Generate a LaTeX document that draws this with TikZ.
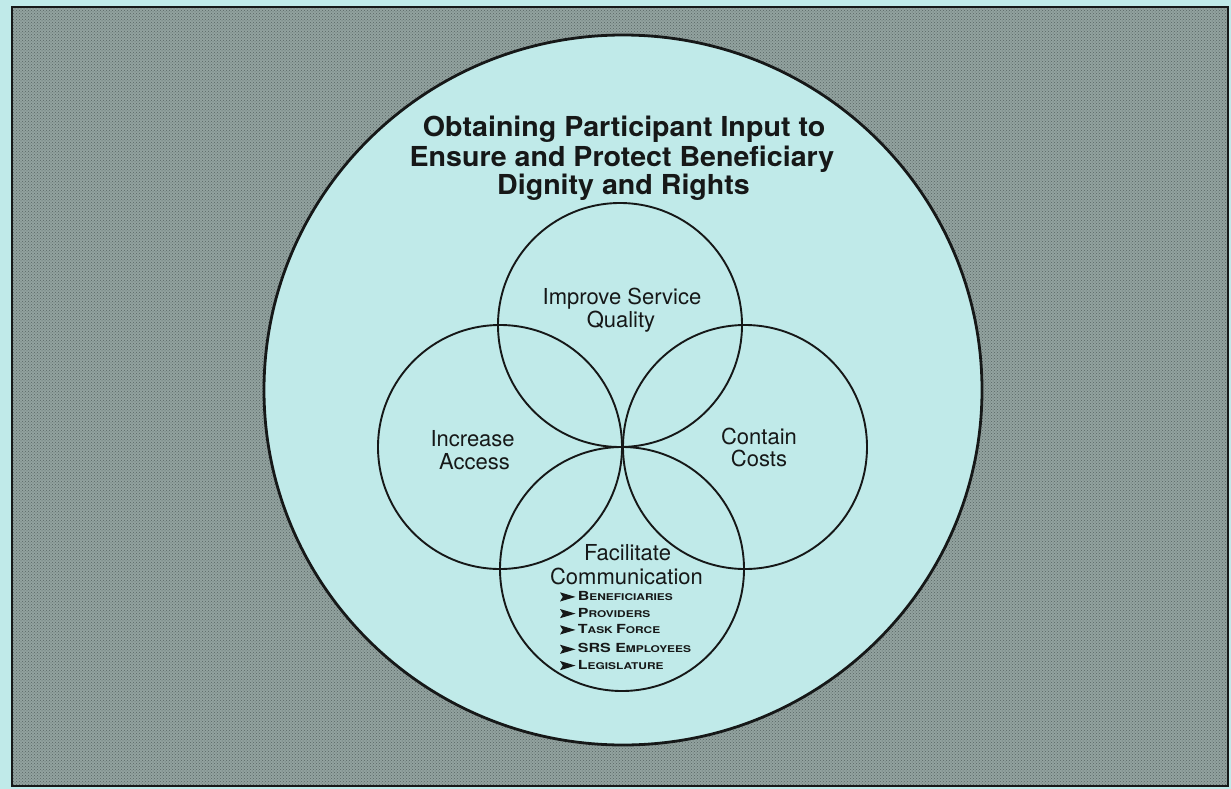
\documentclass[tikz,border=0pt]{standalone}
\usepackage{fontspec}
\usetikzlibrary{patterns}
\setmainfont{TeX Gyre Heros}
\newfontfamily\titlefont[FakeStretch=1.04]{TeX Gyre Heros}
\newfontfamily\listfont[FakeStretch=1.28]{TeX Gyre Heros}
\definecolor{paper}{RGB}{192,234,233}
\definecolor{mat}{RGB}{146,162,159}
\definecolor{matdark}{RGB}{88,102,100}
\definecolor{ink}{RGB}{22,24,24}
% fake small caps: large initial letters, smaller capitals for the rest
\newcommand{\upcap}[1]{{\fontsize{12.5}{17}\selectfont #1}}
\newcommand{\lowcap}[1]{{\fontsize{9.3}{17}\selectfont #1}}
\begin{document}
\begin{tikzpicture}[x=1pt,y=-1pt,
  ring/.style={draw=ink, line width=1.9pt, circle, minimum size=244pt, inner sep=0pt},
  titleline/.style={anchor=base, inner sep=0pt, text=ink,
    font=\titlefont\bfseries\fontsize{27.5}{30}\selectfont},
  label/.style={anchor=base, inner sep=0pt, text=ink, font=\fontsize{22}{23}\selectfont},
  listline/.style={anchor=base west, inner sep=0pt, text=ink, font=\listfont\bfseries},
  bullet/.style={fill=ink}]
\useasboundingbox (0,0) rectangle (1231,789);

% mount board with a pale margin and a halftone-like grain
\fill[paper] (0,0) rectangle (1231,789);
\fill[mat] (12,7) rectangle (1228,786);
\fill[pattern=crosshatch dots, pattern color=matdark] (12,7) rectangle (1228,786);
\draw[ink, line width=1.2pt] (12,7) rectangle (1228,786);

% large enclosing disc
\filldraw[fill=paper, draw=ink, line width=2.8pt] (623,390) ellipse [x radius=359pt, y radius=355pt];

% title
\node[titleline] (title1) at (624,137) {Obtaining Participant Input to};
\node[titleline] (title2) at (622,166) {Ensure and Protect Beneficiary};
\node[titleline] (title3) at (623.5,194.5) {Dignity and Rights};

% four touching circles
\node[ring] (quality) at (620,325) {};
\node[ring] (access)  at (500,447) {};
\node[ring] (costs)   at (745,447) {};
\node[ring] (comm)    at (622,569) {};

% circle labels
\node[label] (quality1) at (622,304)   {Improve Service};
\node[label] (quality2) at (621,327.3) {Quality};
\node[label] (access1)  at (472.6,446.7) {Increase};
\node[label] (access2)  at (474.5,469.3) {Access};
\node[label] (costs1)   at (759,444.3) {Contain};
\node[label] (costs2)   at (759,466.7) {Costs};
\node[label] (comm1)    at (627.5,560.7) {Facilitate};
\node[label] (comm2)    at (626.5,584.3) {Communication};

% audience list
\node[listline] (aud1) at (577.7,600.3) {\upcap{B}\lowcap{ENEFICIARIES}};
\node[listline] (aud2) at (577.7,617)   {\upcap{P}\lowcap{ROVIDERS}};
\node[listline] (aud3) at (577.7,633.3) {\upcap{T}\lowcap{ASK }\upcap{F}\lowcap{ORCE}};
\node[listline] (aud4) at (577.7,652.7) {\upcap{SRS E}\lowcap{MPLOYEES}};
\node[listline] (aud5) at (577.7,669)   {\upcap{L}\lowcap{EGISLATURE}};
\foreach \yb in {600.3,617,633.3,652.7,669}
  \fill[bullet] (560,\yb-8) -- (575.5,\yb-3.4) -- (560,\yb+1.2) -- (562.8,\yb-3.4) -- cycle;
\end{tikzpicture}
\end{document}
